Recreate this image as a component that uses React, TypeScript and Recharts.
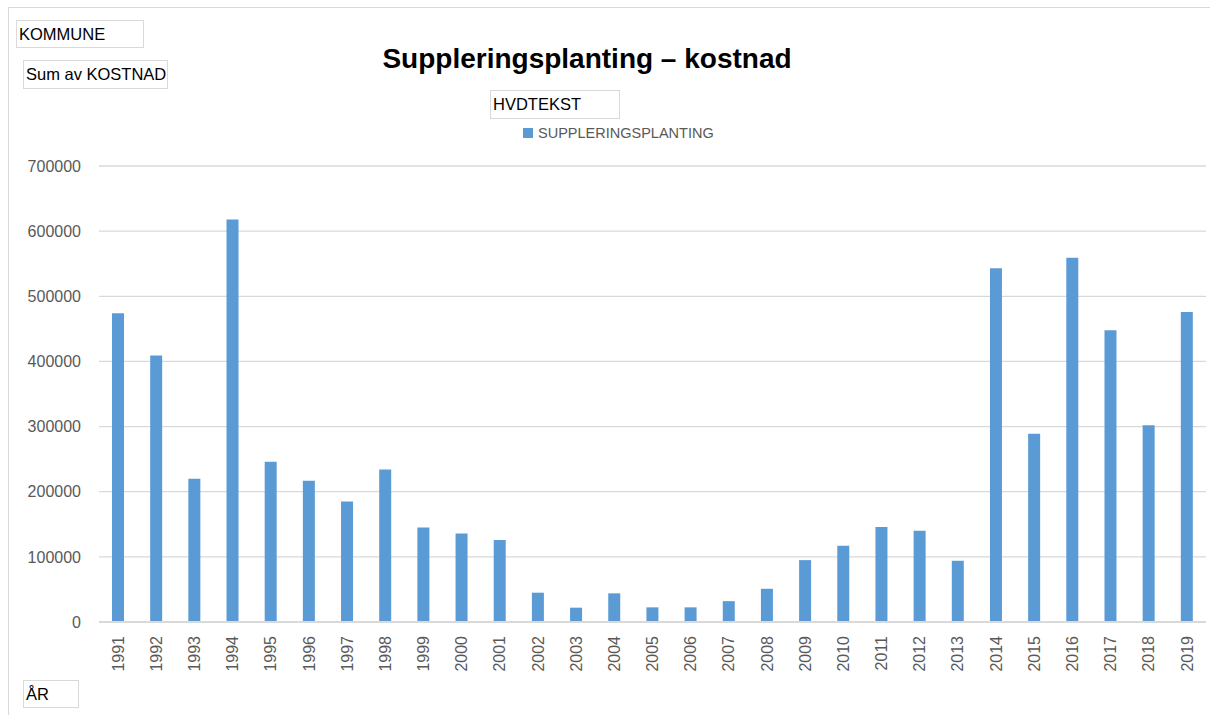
import React from "react";
import { BarChart, Bar, XAxis, YAxis, CartesianGrid } from "recharts";

const years: string[] = [
  "1991", "1992", "1993", "1994", "1995", "1996", "1997", "1998", "1999", "2000",
  "2001", "2002", "2003", "2004", "2005", "2006", "2007", "2008", "2009", "2010",
  "2011", "2012", "2013", "2014", "2015", "2016", "2017", "2018", "2019",
];

const kostnad: number[] = [
  474000, 409000, 220000, 618000, 246000, 217000, 185000, 234000, 145000, 136000,
  126000, 45000, 22000, 44000, 22500, 22500, 32000, 51000, 95000, 117000,
  146000, 140000, 94000, 543000, 289000, 559000, 448000, 302000, 476000,
];

const yTicks: number[] = [0, 100000, 200000, 300000, 400000, 500000, 600000, 700000];

const seriesName = "SUPPLERINGSPLANTING";
const titleText = "Suppleringsplanting \u2013 kostnad";

const data = years.map((y, i) => ({ year: y, value: kostnad[i] }));

const FONT = "'Liberation Sans', Arial, sans-serif";
const BAR = "#5b9bd5";
const GRID = "#d9d9d9";
const LABEL = "#595959";

const XTick = (props: any) => {
  const { x, y, payload } = props;
  return (
    <text
      x={x}
      y={y}
      transform={`rotate(-90, ${x}, ${y})`}
      textAnchor="end"
      dy="0.35em"
      fill={LABEL}
      fontSize={16}
      fontFamily={FONT}
    >
      {payload.value}
    </text>
  );
};

const boxStyle = (left: number, top: number, width: number, height: number): React.CSSProperties => ({
  position: "absolute",
  left,
  top,
  width,
  height,
  boxSizing: "border-box",
  border: `1px solid ${GRID}`,
  fontFamily: FONT,
  fontSize: 16.5,
  lineHeight: `${height - 2}px`,
  color: "#000",
  paddingLeft: 2,
  whiteSpace: "nowrap",
  background: "#fff",
});

export default function App() {
  return (
    <div
      style={{
        position: "fixed",
        left: 0,
        top: 0,
        width: 1210,
        height: 715,
        background: "#fff",
        overflow: "hidden",
      }}
    >
      <div
        style={{
          position: "absolute",
          left: 8,
          top: 7,
          right: 0,
          bottom: 0,
          borderTop: `1px solid ${GRID}`,
          borderLeft: `1px solid ${GRID}`,
        }}
      />
      <BarChart
        width={1210}
        height={715}
        data={data}
        margin={{ top: 166, right: 4, bottom: 33, left: 0 }}
        style={{ position: "absolute", left: 0, top: 0 }}
      >
        <CartesianGrid vertical={false} stroke={GRID} strokeWidth={1.3} />
        <YAxis
          width={99}
          domain={[0, 700000]}
          ticks={yTicks}
          interval={0}
          axisLine={false}
          tickLine={false}
          tickSize={0}
          tickMargin={18}
          tick={{ fill: LABEL, fontSize: 16, fontFamily: FONT }}
        />
        <XAxis
          dataKey="year"
          height={60}
          interval={0}
          axisLine={{ stroke: GRID, strokeWidth: 2 }}
          tickLine={false}
          tickSize={0}
          tickMargin={14}
          tick={<XTick />}
        />
        <Bar dataKey="value" name={seriesName} fill={BAR} barSize={12} isAnimationActive={false} />
      </BarChart>

      <div
        style={{
          position: "absolute",
          left: 0,
          width: 1174,
          top: 44.6,
          textAlign: "center",
          fontFamily: FONT,
          fontWeight: "bold",
          fontSize: 28,
          lineHeight: "28px",
          color: "#000",
          whiteSpace: "nowrap",
        }}
      >
        {titleText}
      </div>

      <div style={boxStyle(16, 20, 128, 28)}>KOMMUNE</div>
      <div style={boxStyle(23, 60, 145, 29)}>Sum av KOSTNAD</div>
      <div style={boxStyle(490, 90, 130, 29)}>HVDTEKST</div>
      <div style={boxStyle(23, 680, 56, 28)}>ÅR</div>

      <div
        style={{
          position: "absolute",
          left: 523,
          top: 128,
          width: 10,
          height: 10,
          background: BAR,
        }}
      />
      <div
        style={{
          position: "absolute",
          left: 538,
          top: 123,
          fontFamily: FONT,
          fontSize: 14.5,
          lineHeight: "20px",
          color: LABEL,
          whiteSpace: "nowrap",
        }}
      >
        {seriesName}
      </div>
    </div>
  );
}
